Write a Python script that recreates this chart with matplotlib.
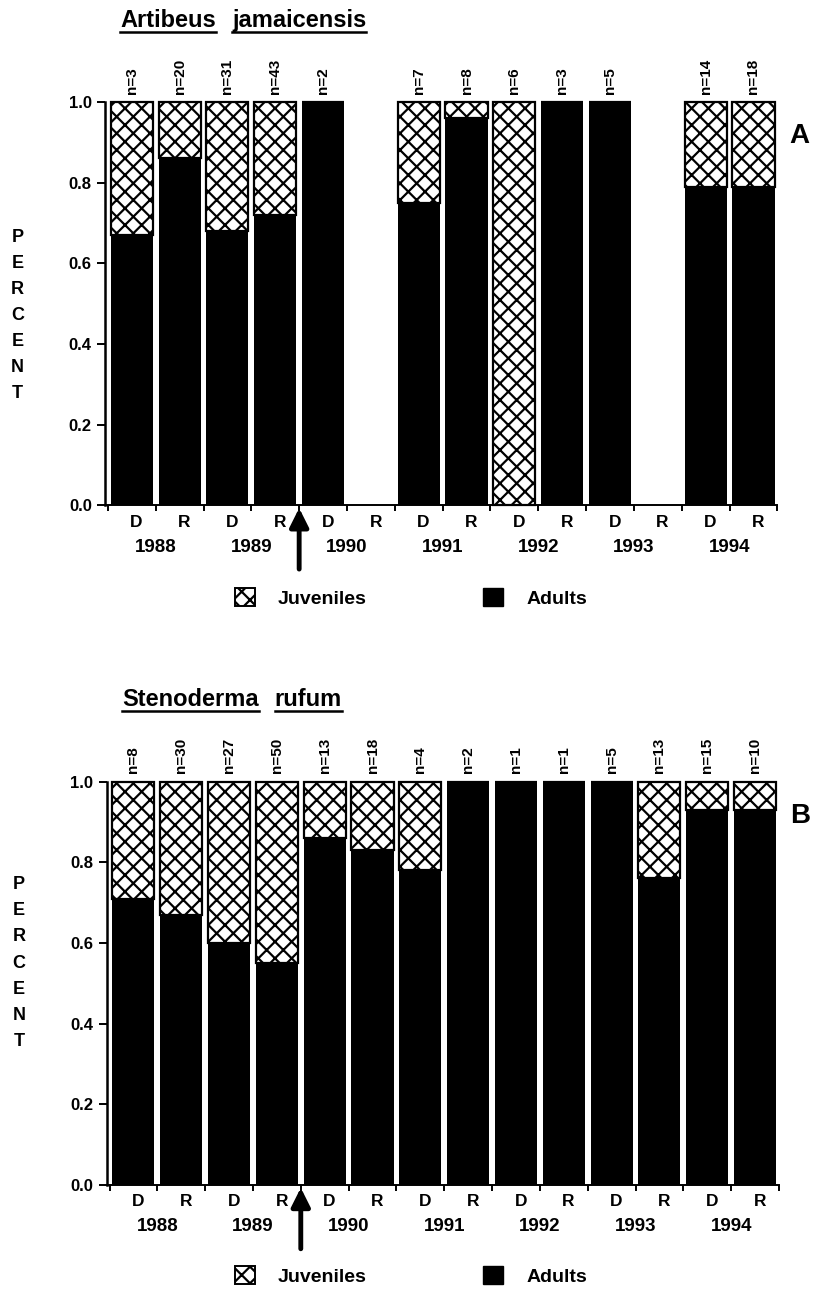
import matplotlib
matplotlib.use('Agg')
import matplotlib.pyplot as plt
from matplotlib.patches import Patch
from matplotlib.lines import Line2D

plt.rcParams['font.family'] = ['Liberation Sans', 'DejaVu Sans']
plt.rcParams['font.weight'] = 'bold'
plt.rcParams['hatch.linewidth'] = 1.6

# data: fraction of adults per season (D = dry, R = rainy), None = no sample
years = ['1988', '1989', '1990', '1991', '1992', '1993', '1994']
seasons = ['D', 'R']
adults_a = [0.67, 0.86, 0.68, 0.72, 1.0, None, 0.75, 0.96, 0.0, 1.0, 1.0, None, 0.79, 0.79]
n_a = ['3', '20', '31', '43', '2', None, '7', '8', '6', '3', '5', None, '14', '18']
adults_b = [0.71, 0.67, 0.60, 0.55, 0.86, 0.83, 0.78, 1.0, 1.0, 1.0, 1.0, 0.76, 0.93, 0.93]
n_b = ['8', '30', '27', '50', '13', '18', '4', '2', '1', '1', '5', '13', '15', '10']


def underlined_title(fig, x, y, words, size):
    """draw words one by one with an underline under each"""
    r = fig.canvas.get_renderer()
    W, H = fig.bbox.width, fig.bbox.height
    for w in words:
        t = fig.text(x, y, w, fontsize=size, fontweight='bold', va='baseline')
        bb = t.get_window_extent(renderer=r)
        ly = y - 5.0 / H
        fig.add_artist(Line2D([bb.x0 / W, bb.x1 / W], [ly, ly], color='black', lw=1.8))
        x = bb.x1 / W + 16.0 / W


def panel(ax, adults, nlabels, letter, ylab_pos):
    xs = list(range(len(adults)))
    for i in xs:
        a = adults[i]
        if a is None:
            continue
        # juveniles on top (hatched), adults at bottom (black)
        ax.bar(i, 1.0 - a, bottom=a, width=0.88, color='white', edgecolor='black',
               hatch='xx', linewidth=1.6, clip_on=False)
        if a > 0:
            ax.bar(i, a, width=0.88, color='black', edgecolor='black', linewidth=0, clip_on=False)
        ax.text(i, 1.02, 'n=' + nlabels[i], rotation=90, ha='center', va='bottom',
                fontsize=11, fontweight='bold')

    ax.set_xlim(-0.56, 13.5)
    ax.set_ylim(0, 1.0)
    ax.set_yticks([0.0, 0.2, 0.4, 0.6, 0.8, 1.0])
    ax.set_yticklabels(['0.0', '0.2', '0.4', '0.6', '0.8', '1.0'], fontsize=12)
    ax.set_xticks([k + 0.5 for k in range(-1, 14)])
    ax.set_xticklabels([])
    ax.tick_params(axis='x', length=4, width=1.4, direction='out')
    ax.tick_params(axis='y', length=6, width=1.4, direction='out')
    for s in ['top', 'right']:
        ax.spines[s].set_visible(False)
    ax.spines['left'].set_linewidth(1.8)
    ax.spines['bottom'].set_linewidth(1.4)

    tr = ax.get_xaxis_transform()
    for j, yr in enumerate(years):
        for k, s in enumerate(seasons):
            ax.text(2 * j + k + 0.1, -0.042, s, transform=tr, ha='center', va='center',
                    fontsize=12.5, fontweight='bold')
        ax.text(2 * j + 0.5, -0.104, yr, transform=tr, ha='center', va='center',
                fontsize=13.5, fontweight='bold')

    ax.annotate('', xy=(3.5, 0.0), xytext=(3.5, -0.165), xycoords=tr, textcoords=tr,
                arrowprops=dict(arrowstyle='-|>', lw=3.5, color='black', mutation_scale=28),
                annotation_clip=False)

    ax.text(1.032, 0.915, letter, transform=ax.transAxes, fontsize=20, fontweight='bold',
            ha='center', va='center')
    ax.text(-0.13, ylab_pos, '\n'.join('PERCENT'), transform=ax.transAxes, fontsize=13,
            fontweight='bold', ha='center', va='center', linespacing=1.7)


fig = plt.figure(figsize=(8.14, 12.89), dpi=100)
ax1 = fig.add_axes([0.129, 0.608, 0.826, 0.313])
ax2 = fig.add_axes([0.131, 0.0807, 0.826, 0.313])

panel(ax1, adults_a, n_a, 'A', 0.47)
panel(ax2, adults_b, n_b, 'B', 0.55)

underlined_title(fig, 0.148, 0.979, ['Artibeus', 'jamaicensis'], 17)
underlined_title(fig, 0.150, 0.452, ['Stenoderma', 'rufum'], 17)

handles = [Patch(facecolor='white', edgecolor='black', hatch='xx', linewidth=1.4),
           Patch(facecolor='black', edgecolor='black')]
labels = ['Juveniles', 'Adults']
for yy in [0.536, 0.010]:
    fig.legend(handles, labels, loc='center', bbox_to_anchor=(0.505, yy), ncol=2,
               frameon=False, fontsize=14, columnspacing=6, handlelength=1.0,
               handleheight=1.0, handletextpad=1.2)

fig.savefig('out.png', dpi=100)
